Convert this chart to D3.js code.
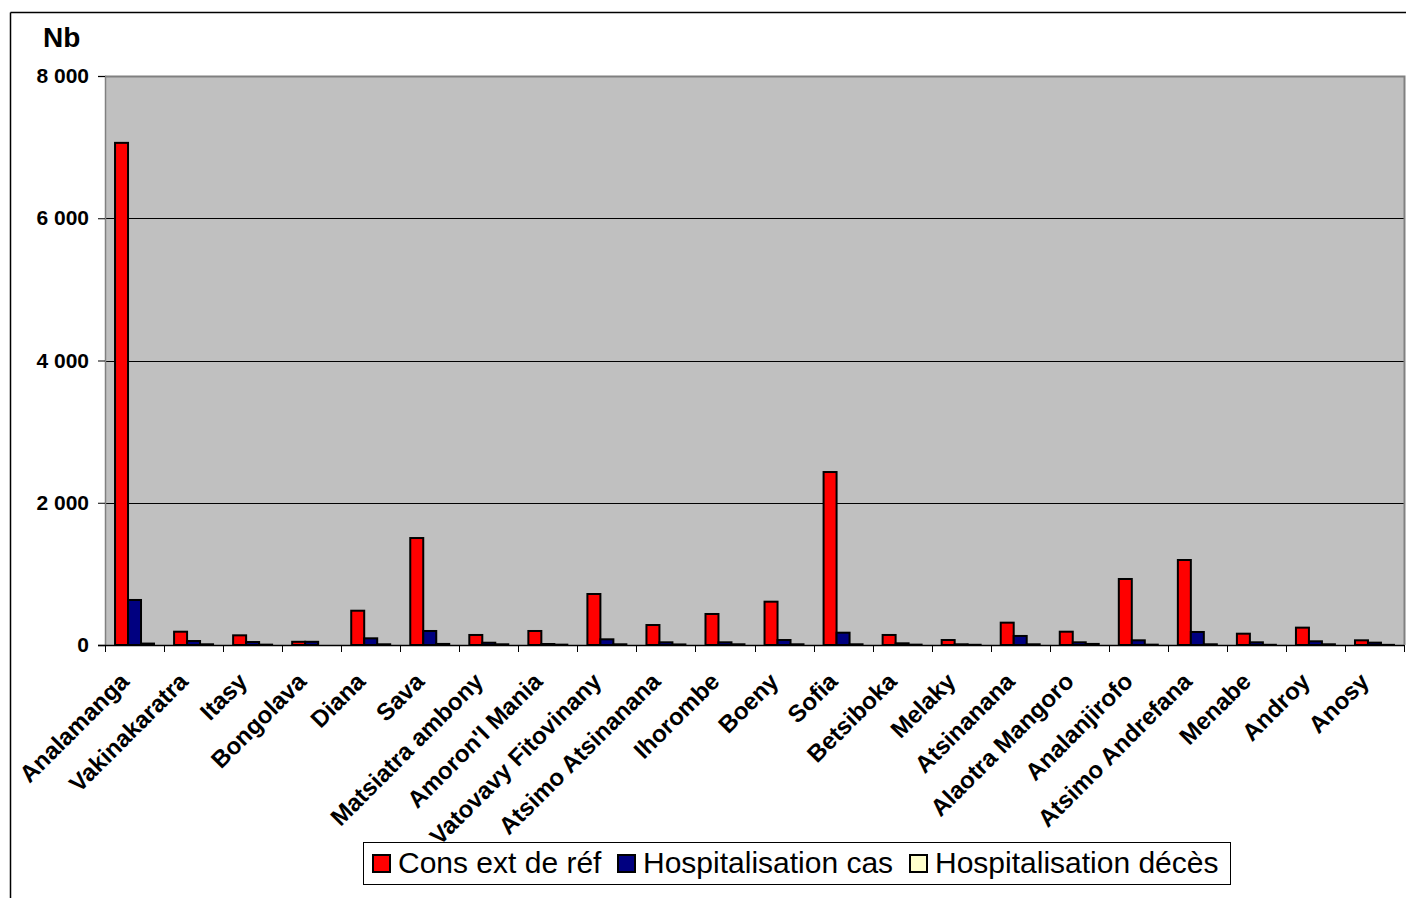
<!DOCTYPE html>
<html><head><meta charset="utf-8">
<script src="https://cdn.jsdelivr.net/npm/d3@7"></script>
<style>body{margin:0;background:#fff}svg{display:block;font-family:Arial,"Liberation Sans",sans-serif}</style>
</head><body>
<svg id="c" width="1406" height="898"></svg>
<script>
const categories = ["Analamanga","Vakinakaratra","Itasy","Bongolava","Diana","Sava","Matsiatra ambony","Amoron'I Mania","Vatovavy Fitovinany","Atsimo Atsinanana","Ihorombe","Boeny","Sofia","Betsiboka","Melaky","Atsinanana","Alaotra Mangoro","Analanjirofo","Atsimo Andrefana","Menabe","Androy","Anosy"];
const seriesNames = ["Cons ext de réf","Hospitalisation cas","Hospitalisation décès"];
const consExt = [7060,187,136,45,482,1504,141,197,717,281,436,609,2432,141,70,314,187,928,1195,159,244,66];
const hospCas = [633,56,42,45,94,197,32,14,80,38,38,70,173,24,10,127,38,66,183,38,52,33];
const hospDeces = [20,10,5,0,10,15,10,5,10,8,10,10,10,5,3,10,15,5,10,3,10,2];
const yTicks = [0,2000,4000,6000,8000];
const colors = ["#FF0000","#000080","#FFFFCC"];

const svg = d3.select("#c");
const L=105, R=1404, T=76, B=645;
const allSeries=[consExt,hospCas,hospDeces];

// outer frame
svg.append("line").attr("x1",10.5).attr("y1",12.5).attr("x2",1406).attr("y2",12.5).attr("stroke","#000").attr("stroke-width",1.5);
svg.append("line").attr("x1",10.5).attr("y1",12.5).attr("x2",10.5).attr("y2",898).attr("stroke","#000").attr("stroke-width",1.5);

const y = d3.scaleLinear().domain([0,8000]).range([B,T]);
const x0 = d3.scaleBand().domain(categories).range([L,R]).paddingInner(0.34).paddingOuter(0.17);
const x1 = d3.scaleBand().domain([0,1,2]).range([0,x0.bandwidth()]);
const step = x0.step();

svg.append("rect").attr("x",L).attr("y",T).attr("width",R-L).attr("height",B-T).attr("fill","#C0C0C0");
// gridlines
svg.append("g").selectAll("line").data(yTicks.filter(d=>d>0&&d<8000)).join("line")
  .attr("x1",L).attr("x2",R).attr("y1",d=>Math.round(y(d))+0.5).attr("y2",d=>Math.round(y(d))+0.5)
  .attr("stroke","#000").attr("stroke-width",1);
// plot border
svg.append("path").attr("d",`M${L},${T+0.5}H${R+0.5}V${B}`).attr("fill","none").attr("stroke","#808080").attr("stroke-width",2);

// bars
const g = svg.append("g");
categories.forEach((c,i)=>{
  allSeries.forEach((s,k)=>{
    g.append("rect").attr("x",x0(c)+x1(k)).attr("y",y(s[i])).attr("width",x1.bandwidth()).attr("height",B-y(s[i]))
      .attr("fill",colors[k]).attr("stroke","#000").attr("stroke-width",2);
  });
});

// y axis
const fmt = d3.formatLocale({decimal:",",thousands:"\u00a0",grouping:[3],currency:["",""]}).format(",");
const ya = svg.append("g").attr("transform",`translate(${L},0)`).call(d3.axisLeft(y).tickValues(yTicks).tickSize(7).tickPadding(9).tickFormat(fmt));
ya.select(".domain").attr("stroke","#808080").attr("stroke-width",1.5);
ya.selectAll(".tick line").attr("stroke","#000");
ya.selectAll("text").attr("font-size",21).attr("font-weight","bold").attr("fill","#000").attr("font-family","Arial, Liberation Sans, sans-serif");

// x axis
svg.append("line").attr("x1",L-7).attr("x2",R).attr("y1",B+0.5).attr("y2",B+0.5).attr("stroke","#000").attr("stroke-width",1.5);
svg.append("g").selectAll("line").data(d3.range(categories.length+1)).join("line")
  .attr("x1",i=>Math.round(L+i*step)+0.5).attr("x2",i=>Math.round(L+i*step)+0.5).attr("y1",B).attr("y2",B+7)
  .attr("stroke","#000").attr("stroke-width",1);
svg.append("g").selectAll("text").data(categories).join("text")
  .attr("transform",d=>`translate(${x0(d)+x0.bandwidth()/2-4},${B+38}) rotate(-45)`)
  .attr("text-anchor","end").attr("font-size",24).attr("font-weight","bold").attr("fill","#000")
  .text(d=>d);

// Nb label
svg.append("text").attr("x",43).attr("y",47).attr("font-size",28).attr("font-weight","bold").text("Nb");

// legend
const lg = svg.append("g");
lg.append("rect").attr("x",363.5).attr("y",842.5).attr("width",867).attr("height",42).attr("fill","#fff").attr("stroke","#000").attr("stroke-width",1);
const legX=[372,617,909];
seriesNames.forEach((n,k)=>{
  lg.append("rect").attr("x",legX[k]+1).attr("y",855).attr("width",17).attr("height",17).attr("fill",colors[k]).attr("stroke","#000").attr("stroke-width",2);
  lg.append("text").attr("x",legX[k]+26).attr("y",873).attr("font-size",30).attr("fill","#000").text(n);
});
</script>
</body></html>
